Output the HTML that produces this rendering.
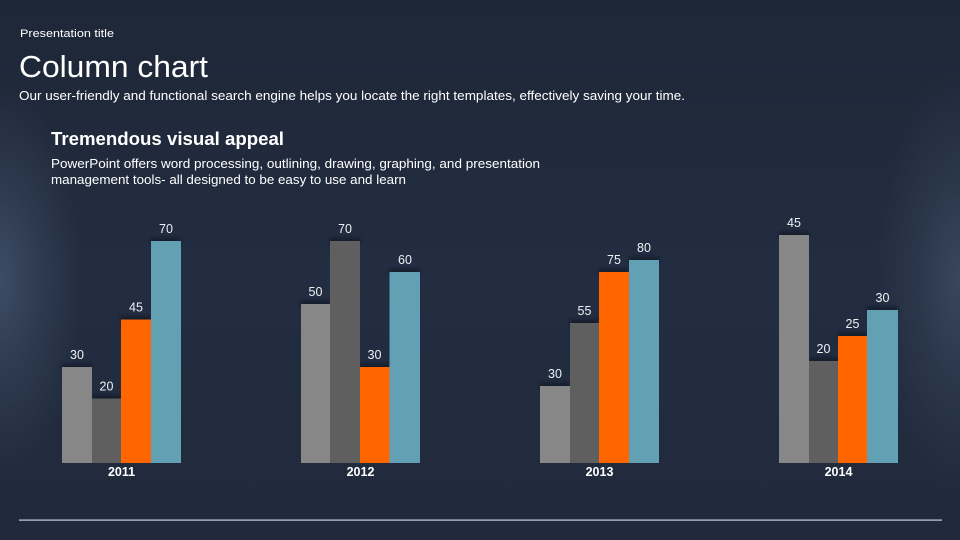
<!DOCTYPE html>
<html>
<head>
<meta charset="utf-8">
<style>
html,body{margin:0;padding:0;background:#222c3e;}
svg{display:block;}
text{font-family:"Liberation Sans",sans-serif;}
</style>
</head>
<body>
<svg width="960" height="540" viewBox="0 0 960 540" xmlns="http://www.w3.org/2000/svg">
<defs>
<linearGradient id="bgv" x1="0" y1="0" x2="0" y2="1">
<stop offset="0" stop-color="#1e2737"/>
<stop offset="0.5" stop-color="#232d41"/>
<stop offset="1" stop-color="#212a3c"/>
</linearGradient>
<radialGradient id="gl" cx="0" cy="280" r="150" gradientUnits="userSpaceOnUse" gradientTransform="translate(0,280) scale(0.55,1.3) translate(0,-280)">
<stop offset="0" stop-color="#3e4e66" stop-opacity="0.95"/>
<stop offset="0.5" stop-color="#3e4e66" stop-opacity="0.4"/>
<stop offset="1" stop-color="#3e4e66" stop-opacity="0"/>
</radialGradient>
<radialGradient id="gr" cx="960" cy="280" r="150" gradientUnits="userSpaceOnUse" gradientTransform="translate(960,280) scale(0.55,1.4) translate(-960,-280)">
<stop offset="0" stop-color="#3b4a60" stop-opacity="0.9"/>
<stop offset="0.5" stop-color="#3b4a60" stop-opacity="0.35"/>
<stop offset="1" stop-color="#3b4a60" stop-opacity="0"/>
</radialGradient>
<filter id="sh" x="-10%" y="-10%" width="120%" height="120%">
<feGaussianBlur stdDeviation="1.5"/>
</filter>
</defs>
<rect width="960" height="540" fill="url(#bgv)"/>
<rect width="960" height="540" fill="url(#gl)"/>
<rect width="960" height="540" fill="url(#gr)"/>

<text x="20" y="37" font-size="11" fill="#ffffff" textLength="94" lengthAdjust="spacingAndGlyphs">Presentation title</text>
<text x="19" y="77" font-size="31" fill="#ffffff" textLength="189" lengthAdjust="spacingAndGlyphs">Column chart</text>
<text x="19" y="100" font-size="13" fill="#ffffff" textLength="666" lengthAdjust="spacingAndGlyphs">Our user-friendly and functional search engine helps you locate the right templates, effectively saving your time.</text>
<text x="51" y="145" font-size="18.5" font-weight="bold" fill="#ffffff" textLength="233" lengthAdjust="spacingAndGlyphs">Tremendous visual appeal</text>
<text x="51" y="168" font-size="13" fill="#ffffff" textLength="489" lengthAdjust="spacingAndGlyphs">PowerPoint  offers word processing,  outlining,  drawing,  graphing,  and presentation</text>
<text x="51" y="184" font-size="13" fill="#ffffff" textLength="355" lengthAdjust="spacingAndGlyphs">management  tools-  all designed  to be easy to use and learn</text>

<!-- shadows -->
<g fill="#0d1320" opacity="0.7" filter="url(#sh)">
<rect x="62" y="364" width="30" height="6"/>
<rect x="92" y="395.5" width="29" height="6"/>
<rect x="121" y="316.5" width="30" height="6"/>
<rect x="151" y="238" width="30" height="6"/>
<rect x="301" y="301" width="29" height="6"/>
<rect x="330" y="238" width="30" height="6"/>
<rect x="360" y="364" width="29.5" height="6"/>
<rect x="389.5" y="269" width="30.5" height="6"/>
<rect x="540" y="383" width="30" height="6"/>
<rect x="570" y="320" width="29" height="6"/>
<rect x="599" y="269" width="30" height="6"/>
<rect x="629" y="257" width="30" height="6"/>
<rect x="779" y="232" width="30" height="6"/>
<rect x="809" y="358" width="29" height="6"/>
<rect x="838" y="333" width="29" height="6"/>
<rect x="867" y="307" width="31" height="6"/>
</g>

<!-- 2011 -->
<rect x="62" y="367" width="30" height="96" fill="#878787"/>
<rect x="92" y="398.5" width="29" height="64.5" fill="#5f5f5f"/>
<rect x="121" y="319.5" width="30" height="143.5" fill="#ff6600"/>
<rect x="151" y="241" width="30" height="222" fill="#62a0b4"/>
<!-- 2012 -->
<rect x="301" y="304" width="29" height="159" fill="#878787"/>
<rect x="330" y="241" width="30" height="222" fill="#5f5f5f"/>
<rect x="360" y="367" width="29.5" height="96" fill="#ff6600"/>
<rect x="389.5" y="272" width="30.5" height="191" fill="#62a0b4"/>
<!-- 2013 -->
<rect x="540" y="386" width="30" height="77" fill="#878787"/>
<rect x="570" y="323" width="29" height="140" fill="#5f5f5f"/>
<rect x="599" y="272" width="30" height="191" fill="#ff6600"/>
<rect x="629" y="260" width="30" height="203" fill="#62a0b4"/>
<!-- 2014 -->
<rect x="779" y="235" width="30" height="228" fill="#878787"/>
<rect x="809" y="361" width="29" height="102" fill="#5f5f5f"/>
<rect x="838" y="336" width="29" height="127" fill="#ff6600"/>
<rect x="867" y="310" width="31" height="153" fill="#62a0b4"/>

<g font-size="12.5" fill="#eef1f4" text-anchor="middle">
<text x="77" y="359">30</text>
<text x="106.5" y="390.5">20</text>
<text x="136" y="311.5">45</text>
<text x="166" y="233">70</text>
<text x="315.5" y="296">50</text>
<text x="345" y="233">70</text>
<text x="374.5" y="359">30</text>
<text x="405" y="264">60</text>
<text x="555" y="378">30</text>
<text x="584.5" y="315">55</text>
<text x="614" y="264">75</text>
<text x="644" y="252">80</text>
<text x="794" y="227">45</text>
<text x="823.5" y="353">20</text>
<text x="852.5" y="328">25</text>
<text x="882.5" y="302">30</text>
</g>

<g font-size="12.5" font-weight="bold" fill="#ffffff" text-anchor="middle">
<text x="121.5" y="476">2011</text>
<text x="360.5" y="476">2012</text>
<text x="599.5" y="476">2013</text>
<text x="838.5" y="476">2014</text>
</g>

<rect x="19" y="519.5" width="923" height="1.2" fill="#c9d1dc"/>
</svg>
</body>
</html>
